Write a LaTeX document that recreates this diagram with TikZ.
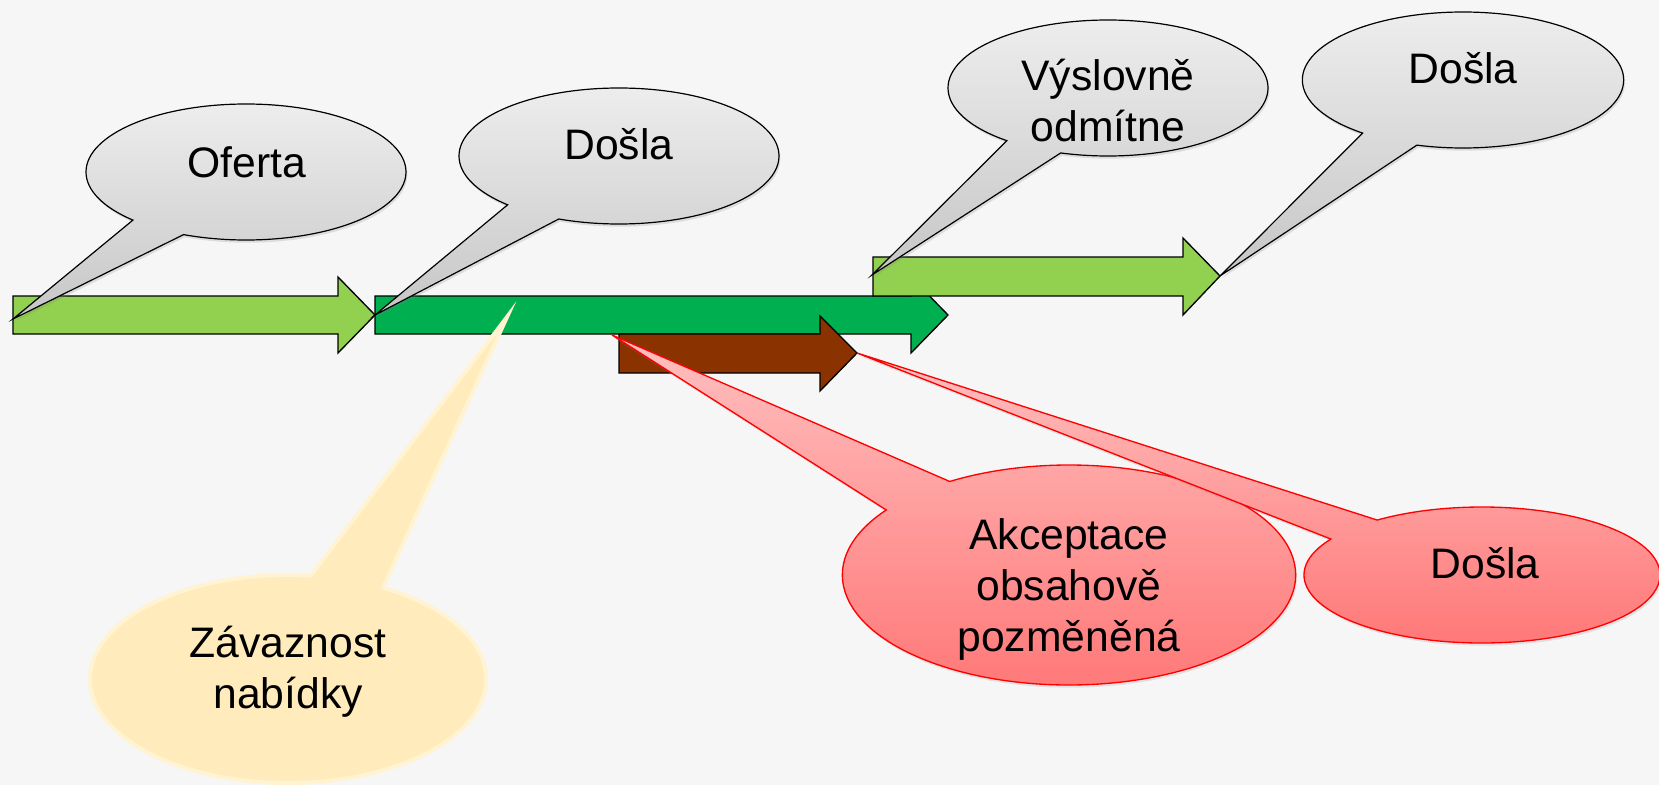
\documentclass[tikz,border=0pt]{standalone}
\usepackage{fontspec}
\setmainfont{Liberation Sans}
\usetikzlibrary{shapes.callouts,shadows}

\definecolor{slideBg}{RGB}{246,246,246}
\definecolor{lightGreen}{RGB}{146,208,80}
\definecolor{darkGreen}{RGB}{0,176,80}
\definecolor{rust}{RGB}{139,51,0}
\definecolor{grayTop}{RGB}{237,237,237}
\definecolor{grayBottom}{RGB}{198,198,198}
\definecolor{redTop}{RGB}{255,192,192}
\definecolor{redBottom}{RGB}{255,118,118}
\definecolor{creamFill}{RGB}{255,235,187}
\definecolor{creamLine}{RGB}{255,243,210}

\tikzset{every picture/.style={line width=0.75pt}}
\tikzset{
	blockArrow/.style={draw=black, line width=1pt},
	bubble/.style={ellipse callout, inner sep=0pt, callout pointer arc=22},
	grayBubble/.style={bubble, draw=black, line width=0.9pt, top color=grayTop, bottom color=grayBottom,
		drop shadow={opacity=0.22, shadow xshift=1pt, shadow yshift=-2pt}},
	redBubble/.style={bubble, draw=red, line width=1pt, top color=redTop, bottom color=redBottom,
		drop shadow={opacity=0.18, shadow xshift=1pt, shadow yshift=-2pt}},
	creamBubble/.style={bubble, draw=creamLine, line width=3pt, fill=creamFill},
	% base of a text node = baseline of its last line
	bubbleText/.style={font=\fontsize{32}{38.25}\selectfont, align=center, anchor=base, inner sep=0pt},
}

\begin{document}
\begin{tikzpicture}[x=0.75pt,y=0.75pt,yscale=-1,xscale=1]
	\useasboundingbox (0,0) rectangle (1659,785);
	\fill[slideBg] (0,0) rectangle (1659,785);

	% pointer ends of the callouts
	\coordinate (offerStart) at (13,319);
	\coordinate (offerEnd) at (375,315);
	\coordinate (bindAt) at (507,317);
	\coordinate (acceptStart) at (612,335);
	\coordinate (acceptEnd) at (857,353);
	\coordinate (rejectStart) at (872,275);
	\coordinate (rejectEnd) at (1220,276);

	%Shape: Right Arrow (offer)
	\draw [blockArrow, fill=lightGreen] (13,296) -- (338,296) -- (338,277) -- (offerEnd) -- (338,353) -- (338,334) -- (13,334) -- cycle ;
	%Shape: Right Arrow (binding)
	\draw [blockArrow, fill=darkGreen] (375,296) -- (911,296) -- (911,277) -- (948,315) -- (911,353) -- (911,334) -- (375,334) -- cycle ;
	%Shape: Right Arrow (changed acceptance)
	\draw [blockArrow, fill=rust] (619,334) -- (820,334) -- (820,316) -- (acceptEnd) -- (820,391) -- (820,373) -- (619,373) -- cycle ;
	%Shape: Right Arrow (rejection)
	\draw [blockArrow, fill=lightGreen] (873,257) -- (1183,257) -- (1183,238) -- (rejectEnd) -- (1183,315) -- (1183,296) -- (873,296) -- cycle ;

	%Shape: Ellipse Callout
	\node [grayBubble, minimum width=240pt, minimum height=102pt, callout absolute pointer={(offerStart)}] (bubOffer) at (246,172) {};
	%Shape: Ellipse Callout
	\node [grayBubble, minimum width=240pt, minimum height=102pt, callout absolute pointer={(offerEnd)}] (bubArrived) at (619,156) {};
	%Shape: Ellipse Callout
	\node [grayBubble, minimum width=240pt, minimum height=102pt, callout absolute pointer={(rejectStart)}] (bubReject) at (1108,88) {};
	%Shape: Ellipse Callout
	\node [grayBubble, minimum width=241pt, minimum height=102pt, callout absolute pointer={(rejectEnd)}] (bubRejectArrived) at (1463,80) {};
	%Shape: Ellipse Callout
	\node [creamBubble, minimum width=297pt, minimum height=156pt, callout absolute pointer={(bindAt)}] (bubBinding) at (288,679) {};
	%Shape: Ellipse Callout
	\node [redBubble, minimum width=340pt, minimum height=165pt, callout absolute pointer={(acceptStart)}] (bubAccept) at (1069,575) {};
	%Shape: Ellipse Callout
	\node [redBubble, minimum width=267pt, minimum height=102pt, callout absolute pointer={(acceptEnd)}] (bubAcceptArrived) at (1482,575) {};

	% Text Node
	\node [bubbleText] (txtOffer) at (247,177) {Oferta};
	% Text Node
	\node [bubbleText] (txtArrived) at (619,159) {Došla};
	% Text Node
	\node [bubbleText] (txtReject) at (1108,141) {Výslovně\\odmítne};
	% Text Node
	\node [bubbleText] (txtRejectArrived) at (1463,83) {Došla};
	% Text Node
	\node [bubbleText] (txtBinding) at (288,708) {Závaznost\\nabídky};
	% Text Node
	\node [bubbleText] (txtAccept) at (1069,651) {Akceptace\\obsahově\\pozměněná};
	% Text Node
	\node [bubbleText] (txtAcceptArrived) at (1485,578) {Došla};

\end{tikzpicture}
\end{document}
